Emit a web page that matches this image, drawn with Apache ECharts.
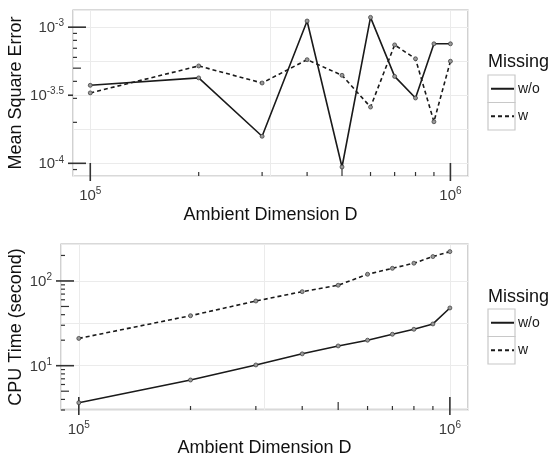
<!DOCTYPE html>
<html>
<head>
<meta charset="utf-8">
<script src="https://cdn.jsdelivr.net/npm/echarts@6/dist/echarts.min.js"></script>
<style>
  html, body { margin: 0; padding: 0; background: #fff; }
  #chart { width: 553px; height: 456px; }
</style>
</head>
<body>
<div id="chart"></div>
<script>
/***** data *****/
var dims = [1e5, 2e5, 3e5, 4e5, 5e5, 6e5, 7e5, 8e5, 9e5, 1e6];
var seriesNames = ['w/o', 'w'];

// Mean Square Error
var mseWithout = [3.74e-4, 4.24e-4, 1.58e-4, 1.11e-3, 9.4e-5, 1.18e-3, 4.35e-4, 3.02e-4, 7.55e-4, 7.55e-4];
var mseWith = [3.29e-4, 5.19e-4, 3.89e-4, 5.77e-4, 4.43e-4, 2.59e-4, 7.41e-4, 5.86e-4, 2.02e-4, 5.62e-4];

// CPU time (second)
var cpuWithout = [3.66, 6.78, 10.2, 13.8, 17.1, 20.0, 23.5, 26.9, 31.1, 48];
var cpuWith = [21.0, 38.9, 58, 74.8, 89, 120, 141, 162, 194, 222];

// axis limits
var dimRange = [89540, 1.119e6];
var mseRange = [8.07e-5, 1.337e-3];
var cpuRange = [3.0, 273];

// log ticks (annotation_logticks style) and axis breaks
var dimBreaks = [1e5, 1e6];
var dimTicksLong = [1e5, 1e6];
var dimTicksMid = [5e5];
var dimTicksShort = [2e5, 3e5, 4e5, 6e5, 7e5, 8e5, 9e5];

var mseBreaks = [1e-4, Math.pow(10, -3.5), 1e-3];
var mseTicksLong = [1e-4, 1e-3];
var mseTicksMid = [5e-4];
var mseTicksShort = [9e-5, 2e-4, 3e-4, 4e-4, 6e-4, 7e-4, 8e-4, 9e-4];

var cpuBreaks = [10, 100];
var cpuTicksLong = [10, 100];
var cpuTicksMid = [5, 50];
var cpuTicksShort = [3, 4, 6, 7, 8, 9, 20, 30, 40, 60, 70, 80, 90, 200];

/***** helpers *****/
var FONT = '"Liberation Sans", Arial, Helvetica, sans-serif';
var TICK_IN = [13, 8, 4, 0];   // long, mid, short, break
var TICK_OUT = [0, 0, 0, 5];

function pairs(xs, ys) {
	return xs.map(function (x, i) { return [x, ys[i]]; });
}

// kind: 0 long, 1 mid, 2 short, 3 break ; side: 0 x-axis, 1 y-axis
function tickData(xGroups, yGroups, xDummy, yDummy) {
	var out = [];
	xGroups.forEach(function (g, kind) {
		g.forEach(function (v) { out.push([v, yDummy, kind, 0]); });
	});
	yGroups.forEach(function (g, kind) {
		g.forEach(function (v) { out.push([xDummy, v, kind, 1]); });
	});
	return out;
}

function renderTick(params, api) {
	var cs = params.coordSys;
	var p = api.coord([api.value(0), api.value(1)]);
	var kind = api.value(2);
	var side = api.value(3);
	var inL = TICK_IN[kind], outL = TICK_OUT[kind];
	var shape;
	if (side === 0) {
		var yb = cs.y + cs.height;
		shape = { x1: p[0], y1: yb + outL, x2: p[0], y2: yb - inL };
	} else {
		shape = { x1: cs.x - outL, y1: p[1], x2: cs.x + inL, y2: p[1] };
	}
	return {
		type: 'line',
		shape: shape,
		style: { stroke: '#333', lineWidth: (kind === 0 || kind === 3) ? 1.6 : 1.2 }
	};
}

function powLabel(step) {
	return function (v) {
		var e = Math.log10(v);
		var r = Math.round(e / step) * step;
		if (Math.abs(e - r) > 1e-6) return '';
		return '{b|10}{s|' + (Math.round(r * 10) / 10) + '}';
	};
}

var labelRich = {
	b: { fontSize: 15, lineHeight: 17, verticalAlign: 'bottom', color: '#3a3a3a', fontFamily: FONT },
	s: { fontSize: 10, lineHeight: 10, verticalAlign: 'top', color: '#3a3a3a', fontFamily: FONT }
};

function logAxis(gridIndex, range, base, step, name, gap, isY) {
	return {
		type: 'log',
		gridIndex: gridIndex,
		logBase: base,
		min: range[0],
		max: range[1],
		name: name,
		nameLocation: 'middle',
		nameGap: gap,
		nameMoveOverlap: false,
		nameTextStyle: { fontSize: 18, color: '#111', fontFamily: FONT },
		axisLine: { show: false },
		axisTick: { show: false },
		axisLabel: {
			formatter: powLabel(step),
			rich: labelRich,
			margin: isY ? 9 : 10,
			hideOverlap: false
		},
		splitLine: { show: true, lineStyle: { color: '#ebebeb', width: 1 } },
		minorSplitLine: { show: false }
	};
}

function lineSeries(name, xIdx, data, dashed) {
	return {
		name: name,
		type: 'line',
		xAxisIndex: xIdx,
		yAxisIndex: xIdx,
		data: data,
		symbol: 'circle',
		symbolSize: 4,
		z: 5,
		lineStyle: { color: '#1a1a1a', width: 1.6, type: dashed ? [4, 3] : 'solid' },
		itemStyle: { color: '#999', borderColor: '#333', borderWidth: 0.7 },
		emphasis: { disabled: true },
		animation: false
	};
}

function legendFor(top) {
	return {
		data: seriesNames,
		orient: 'vertical',
		left: 490,
		top: top,
		padding: 0,
		itemWidth: 23,
		itemHeight: 14,
		itemGap: 13.5,
		itemStyle: { opacity: 0 },
		selectedMode: false,
		textStyle: { fontSize: 14, color: '#1a1a1a', fontFamily: FONT, padding: [0, 0, 0, -1] }
	};
}

function keyBoxes(top) {
	return [0, 1].map(function (i) {
		return {
			type: 'rect',
			shape: { x: 488, y: top + i * 27.5, width: 27, height: 27.5 },
			style: { fill: 'none', stroke: '#c8c8c8', lineWidth: 1.2 },
			z: 0
		};
	});
}

/***** chart *****/
var myChart = echarts.init(document.getElementById('chart'), null, { renderer: 'canvas' });

var gridBase = { show: true, borderColor: '#b3b3b3', borderWidth: 1.2, containLabel: false, outerBoundsMode: 'none' };

var option = {
	animation: false,
	backgroundColor: '#fff',
	textStyle: { fontFamily: FONT },
	grid: [
		Object.assign({ left: 73, top: 10, width: 395, height: 166 }, gridBase),
		Object.assign({ left: 61, top: 244, width: 407, height: 166 }, gridBase)
	],
	xAxis: [
		logAxis(0, dimRange, Math.sqrt(10), 1, 'Ambient Dimension D', 30, false),
		logAxis(1, dimRange, Math.sqrt(10), 1, 'Ambient Dimension D', 29, false)
	],
	yAxis: [
		logAxis(0, mseRange, Math.pow(10, 0.25), 0.5, 'Mean Square Error', 48, true),
		logAxis(1, cpuRange, Math.sqrt(10), 1, 'CPU Time (second)', 36, true)
	],
	legend: [legendFor(81.75), legendFor(315.75)],
	graphic: [].concat(
		keyBoxes(75),
		keyBoxes(309),
		[
			{ type: 'text', left: 488, top: 53, style: { text: 'Missing', fontSize: 18, fill: '#111', fontFamily: FONT } },
			{ type: 'text', left: 488, top: 288, style: { text: 'Missing', fontSize: 18, fill: '#111', fontFamily: FONT } }
		]
	),
	series: [
		lineSeries('w/o', 0, pairs(dims, mseWithout), false),
		lineSeries('w', 0, pairs(dims, mseWith), true),
		lineSeries('w/o', 1, pairs(dims, cpuWithout), false),
		lineSeries('w', 1, pairs(dims, cpuWith), true),
		{
			type: 'custom',
			xAxisIndex: 0,
			yAxisIndex: 0,
			silent: true,
			clip: false,
			z: 4,
			renderItem: renderTick,
			encode: { x: 0, y: 1 },
			data: tickData([dimTicksLong, dimTicksMid, dimTicksShort, dimBreaks],
				[mseTicksLong, mseTicksMid, mseTicksShort, mseBreaks], 3e5, 3e-4)
		},
		{
			type: 'custom',
			xAxisIndex: 1,
			yAxisIndex: 1,
			silent: true,
			clip: false,
			z: 4,
			renderItem: renderTick,
			encode: { x: 0, y: 1 },
			data: tickData([dimTicksLong, dimTicksMid, dimTicksShort, dimBreaks],
				[cpuTicksLong, cpuTicksMid, cpuTicksShort, cpuBreaks], 3e5, 30)
		}
	]
};

myChart.setOption(option);
</script>
</body>
</html>
